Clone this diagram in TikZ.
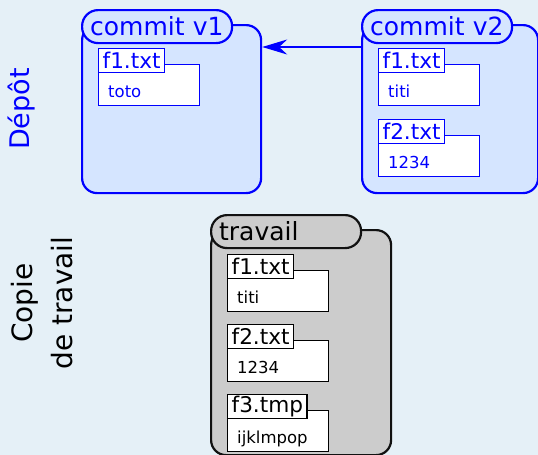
\documentclass[tikz,border=0pt]{standalone}
\usepackage{fontspec}
\setmainfont{DejaVu Sans}
\usetikzlibrary{calc,arrows.meta}
\definecolor{bgblue}{RGB}{229,240,247}
\definecolor{repofill}{RGB}{213,229,255}
\definecolor{repoline}{RGB}{0,0,255}
\definecolor{workfill}{RGB}{204,204,204}
\definecolor{workline}{RGB}{17,17,17}

\tikzset{
  folderbody/.style={draw, rounded corners=15pt, line width=2.2pt, anchor=north west, inner sep=0pt},
  foldertab/.style={draw, rounded corners=16pt, line width=2.2pt, anchor=north west,
    minimum height=33pt, text width=134pt, inner xsep=8pt, inner ysep=0pt, align=left,
    font=\fontsize{25}{30}\selectfont},
  filebody/.style={draw, fill=white, line width=1.3pt, anchor=north west,
    minimum width=101pt, minimum height=41pt, inner sep=0pt},
  filetab/.style={draw, fill=white, line width=1.3pt, anchor=north west,
    minimum height=24pt, inner xsep=4pt, inner ysep=0pt, font=\fontsize{21.6}{26}\selectfont},
  filetext/.style={anchor=base west, inner sep=0pt, font=\fontsize{16.5}{20}\selectfont},
  side/.style={rotate=90, align=center, font=\fontsize{28}{40}\selectfont},
}

% a file: name, x, y of the tab top, file name, content, colour
\newcommand\gitfile[6]{%
  \node[filebody, draw=#6] (#1) at (#2,#3+16) {};
  \node[filetab, draw=#6, text=#6] (#1-tab) at (#2,#3) {#4};
  \node[filetext, text=#6] (#1-txt) at (#2+10,#3+49) {#5};
}

\begin{document}
\begin{tikzpicture}[x=1pt, y=-1pt]
  \fill[bgblue] (0,0) rectangle (538,455);
  \useasboundingbox (0,0) rectangle (538,455);

  % side labels
  \node[side, text=repoline, font=\fontsize{27}{32}\selectfont] (depot) at (22,109) {Dépôt};
  \node[side] (copie) at (42,303) {Copie\\de travail};

  % repository: commit v1
  \node[folderbody, draw=repoline, fill=repofill, minimum width=179pt, minimum height=168pt] (v1) at (81,24) {};
  \node[foldertab, draw=repoline, fill=repofill, text=repoline] (v1-tab) at (81,9) {commit v1};
  \gitfile{v1f1}{98}{48}{f1.txt}{toto}{repoline}

  % repository: commit v2
  \node[folderbody, draw=repoline, fill=repofill, minimum width=176pt, minimum height=168pt] (v2) at (361,24) {};
  \node[foldertab, draw=repoline, fill=repofill, text=repoline] (v2-tab) at (361,9) {commit v2};
  \gitfile{v2f1}{378}{48}{f1.txt}{titi}{repoline}
  \gitfile{v2f2}{378}{119}{f2.txt}{1234}{repoline}

  % parent link
  \draw[-{Stealth[length=25pt,width=15pt]}, repoline, line width=1.3pt]
    ($(v2.north west)+(0,23)$) -- ($(v1.north east)+(0,23)$);

  % working copy
  \node[folderbody, draw=workline, fill=workfill, minimum width=180pt, minimum height=225pt] (work) at (210,229) {};
  \node[foldertab, draw=workline, fill=workfill, text=black] (work-tab) at (210,214) {travail};
  \gitfile{wf1}{227}{254}{f1.txt}{titi}{black}
  \gitfile{wf2}{227}{324}{f2.txt}{1234}{black}
  \gitfile{wf3}{227}{394}{f3.tmp}{ijklmpop}{black}
\end{tikzpicture}
\end{document}
